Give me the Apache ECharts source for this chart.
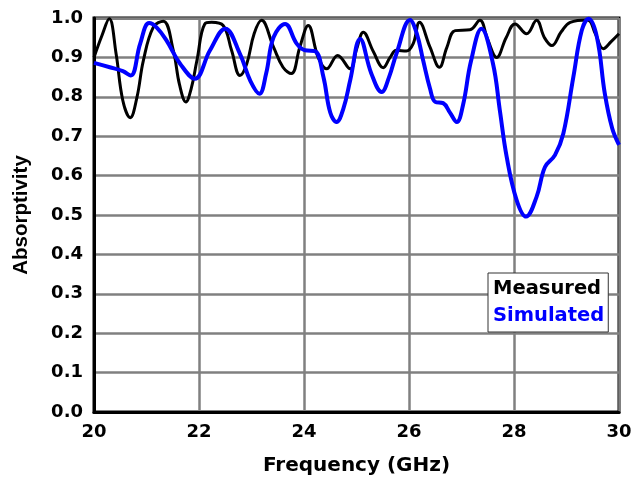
<!DOCTYPE html>
<html>
<head>
<meta charset="utf-8">
<script src="https://cdn.jsdelivr.net/npm/echarts@6/dist/echarts.min.js"></script>
<style>html,body{margin:0;padding:0;background:#fff}#c{width:631px;height:483px}</style>
</head>
<body>
<div id="c"></div>
<script>
// Measured curve
var freqMeasured = [20.00,20.15,20.29,20.42,20.55,20.69,20.82,20.94,21.13,21.32,21.51,21.63,21.75,21.85,21.96,22.11,22.24,22.46,22.62,22.78,22.91,23.05,23.19,23.42,23.60,23.76,23.92,24.08,24.27,24.43,24.64,24.88,25.00,25.13,25.32,25.51,25.64,25.76,25.95,26.08,26.20,26.40,26.58,26.72,26.88,27.16,27.35,27.50,27.67,27.85,28.02,28.24,28.43,28.58,28.72,28.90,29.07,29.40,29.55,29.70,29.85,30.00];
var absMeasured  = [0.900,0.955,0.998,0.91,0.79,0.747,0.80,0.892,0.977,0.992,0.918,0.83,0.787,0.82,0.892,0.985,0.989,0.981,0.918,0.854,0.884,0.96,0.994,0.926,0.875,0.859,0.926,0.981,0.90,0.871,0.905,0.871,0.92,0.964,0.915,0.874,0.90,0.918,0.916,0.935,0.989,0.926,0.875,0.925,0.968,0.970,0.994,0.945,0.900,0.95,0.985,0.960,0.994,0.95,0.930,0.965,0.989,0.995,0.96,0.922,0.94,0.96];
// Simulated curve
var freqSimulated = [20.00,20.30,20.55,20.70,20.88,21.05,21.20,21.38,21.64,21.92,22.21,22.50,22.78,22.98,23.15,23.28,23.42,23.64,23.86,24.02,24.21,24.37,24.50,24.62,24.75,24.88,25.07,25.28,25.48,25.62,25.76,26.02,26.15,26.27,26.40,26.50,26.65,26.78,26.91,27.03,27.18,27.38,27.60,27.73,27.86,28.05,28.23,28.43,28.59,28.78,28.94,29.13,29.29,29.42,29.58,29.73,29.87,30.00];
var absSimulated  = [0.886,0.875,0.865,0.854,0.935,0.987,0.975,0.943,0.884,0.846,0.918,0.973,0.909,0.84,0.808,0.86,0.951,0.985,0.935,0.918,0.916,0.85,0.76,0.736,0.77,0.842,0.947,0.86,0.812,0.85,0.909,0.995,0.96,0.892,0.821,0.787,0.784,0.76,0.736,0.78,0.89,0.973,0.884,0.766,0.648,0.538,0.496,0.546,0.622,0.652,0.707,0.85,0.968,0.998,0.951,0.808,0.72,0.678];
var xTicks = [20,22,24,26,28,30];
var seriesNames = ['Measured','Simulated'];

function zip(a,b){var r=[];for(var i=0;i<a.length;i++)r.push([a[i],b[i]]);return r;}

var chart = echarts.init(document.getElementById('c'), null, {renderer:'canvas'});
var tickFont = {fontFamily:'DejaVu Sans', fontWeight:'bold', fontSize:18, color:'#000'};
chart.setOption({
  animation:false,
  backgroundColor:'#fff',
  grid:{left:94,right:12,top:18,bottom:71,show:true,borderColor:'#000',borderWidth:3,outerBoundsMode:'none'},
  legend:{
    left:488, top:273, orient:'vertical', icon:'none', itemWidth:0, itemHeight:20, itemGap:7,
    padding:[6,4,6,0], backgroundColor:'#fff', borderColor:'#333', borderWidth:1,
    selectedMode:false,
    textStyle:{fontFamily:'DejaVu Sans', fontWeight:'bold', fontSize:19.5},
    data:[{name:seriesNames[0],textStyle:{color:'#000'}},{name:seriesNames[1],textStyle:{color:'#0000ff'}}]
  },
  xAxis:{
    type:'value', min:xTicks[0], max:xTicks[xTicks.length-1], interval:2,
    name:'Frequency (GHz)', nameLocation:'middle', nameGap:44,
    nameTextStyle:{fontFamily:'DejaVu Sans', fontWeight:'bold', fontSize:20, color:'#000'},
    axisLine:{show:true,lineStyle:{color:'#000',width:3}},
    axisTick:{show:false},
    axisLabel:Object.assign({margin:11},tickFont),
    splitLine:{show:true,lineStyle:{color:'#808080',width:2.5}}
  },
  yAxis:{
    type:'value', min:0, max:1, interval:0.1,
    name:'Absorptivity', nameLocation:'middle', nameGap:62, nameRotate:90,
    nameTextStyle:{fontFamily:'Liberation Sans', fontWeight:'bold', fontSize:20.5, color:'#000'},
    axisLine:{show:true,lineStyle:{color:'#000',width:3}},
    axisTick:{show:false},
    axisLabel:Object.assign({margin:11,formatter:function(v){return v.toFixed(1);}},tickFont),
    splitLine:{show:true,lineStyle:{color:'#808080',width:2.5}}
  },
  series:[
    {name:seriesNames[0], type:'line', data:zip(freqMeasured,absMeasured), smooth:0.4, showSymbol:false, symbol:'none',
     lineStyle:{color:'#000',width:3}, itemStyle:{color:'#000'}},
    {name:seriesNames[1], type:'line', data:zip(freqSimulated,absSimulated), smooth:0.4, showSymbol:false, symbol:'none',
     lineStyle:{color:'#0000ff',width:4}, itemStyle:{color:'#0000ff'}}
  ]
});
</script>
</body>
</html>
